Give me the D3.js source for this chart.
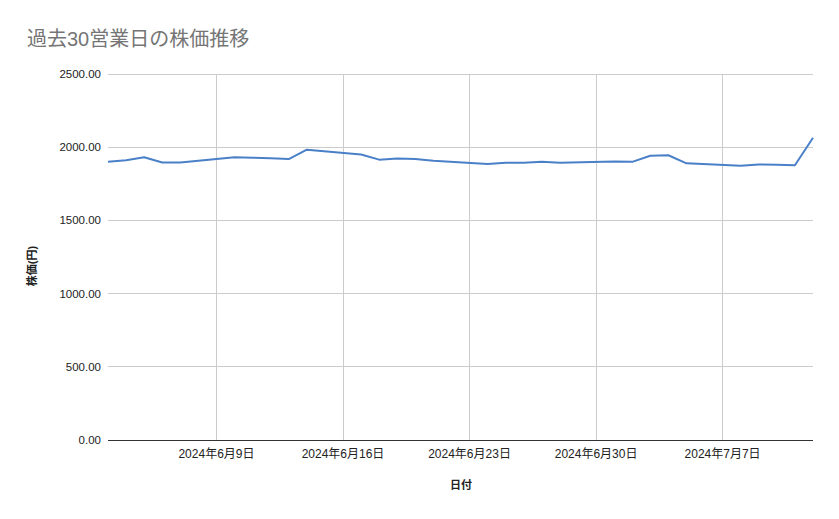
<!DOCTYPE html>
<html><head><meta charset="utf-8">
<script src="https://cdn.jsdelivr.net/npm/d3@7"></script>
<style>
html,body{margin:0;padding:0;background:#fff;}
text{font-family:"Liberation Sans",Arial,"Noto Sans CJK JP",sans-serif;}
</style></head>
<body>
<svg id="chart" width="839" height="519"></svg>
<script>
const dates = ["2024-06-03","2024-06-04","2024-06-05","2024-06-06","2024-06-07",
"2024-06-10","2024-06-11","2024-06-12","2024-06-13","2024-06-14",
"2024-06-17","2024-06-18","2024-06-19","2024-06-20","2024-06-21",
"2024-06-24","2024-06-25","2024-06-26","2024-06-27","2024-06-28",
"2024-07-01","2024-07-02","2024-07-03","2024-07-04","2024-07-05",
"2024-07-08","2024-07-09","2024-07-10","2024-07-11","2024-07-12"];
const prices = [1901,1911,1931,1895,1895,
1932,1928,1924,1919,1983,
1950,1915,1922,1919,1908,
1885,1894,1893,1900,1893,
1903,1900,1942,1945,1890,
1873,1882,1880,1877,2065];
const yTicks = [0,500,1000,1500,2000,2500];
const xTicks = ["2024-06-09","2024-06-16","2024-06-23","2024-06-30","2024-07-07"];
const title = "過去30営業日の株価推移";
const xTitle = "日付";
const yTitle = "株価(円)";

const parse = d3.timeParse("%Y-%m-%d");
const data = dates.map((d,i)=>({date:parse(d), v:prices[i]}));
const svg = d3.select("#chart");
const L=108, R=813, T=74, B=440;
const x = d3.scaleTime().domain([data[0].date, data[data.length-1].date]).range([L,R]);
const y = d3.scaleLinear().domain([0,2500]).range([B,T]);

// horizontal gridlines
svg.append("g").selectAll("line").data(yTicks.filter(t=>t>0)).join("line")
  .attr("x1",L).attr("x2",R).attr("y1",d=>y(d)).attr("y2",d=>y(d))
  .attr("stroke","#cccccc").attr("stroke-width",1).attr("shape-rendering","crispEdges");
// vertical gridlines
svg.append("g").selectAll("line").data(xTicks.map(parse)).join("line")
  .attr("x1",d=>x(d)).attr("x2",d=>x(d)).attr("y1",T).attr("y2",B)
  .attr("stroke","#cccccc").attr("stroke-width",1).attr("shape-rendering","crispEdges");

// y labels
svg.append("g").selectAll("text").data(yTicks).join("text")
  .attr("x",101).attr("y",d=>y(d)+4).attr("text-anchor","end")
  .attr("font-size",11.5).attr("fill","#222").text(d=>d3.format(".2f")(d));

// x labels
const fmt = d=>`${d.getFullYear()}年${d.getMonth()+1}月${d.getDate()}日`;
svg.append("g").selectAll("text").data(xTicks.map(parse)).join("text")
  .attr("x",d=>x(d)).attr("y",458).attr("text-anchor","middle")
  .attr("font-size",12).attr("fill","#222").text(fmt);

// baseline
svg.append("line").attr("x1",L).attr("x2",R).attr("y1",y(0)).attr("y2",y(0))
  .attr("stroke","#333").attr("stroke-width",1).attr("shape-rendering","crispEdges");

// line
svg.append("path").datum(data)
  .attr("d", d3.line().x(d=>x(d.date)).y(d=>y(d.v)))
  .attr("fill","none").attr("stroke","#4a80c8").attr("stroke-width",2)
  .attr("stroke-linejoin","round");

// titles
svg.append("text").attr("x",27).attr("y",46).attr("font-size",20).attr("fill","#757575").text(title);
svg.append("text").attr("x",461).attr("y",489).attr("text-anchor","middle")
  .attr("font-size",11).attr("font-weight","bold").attr("fill","#222").text(xTitle);
svg.append("text").attr("transform","translate(36,266) rotate(-90)").attr("text-anchor","middle")
  .attr("font-size",11).attr("font-weight","bold").attr("fill","#222").text(yTitle);
</script>
</body></html>
